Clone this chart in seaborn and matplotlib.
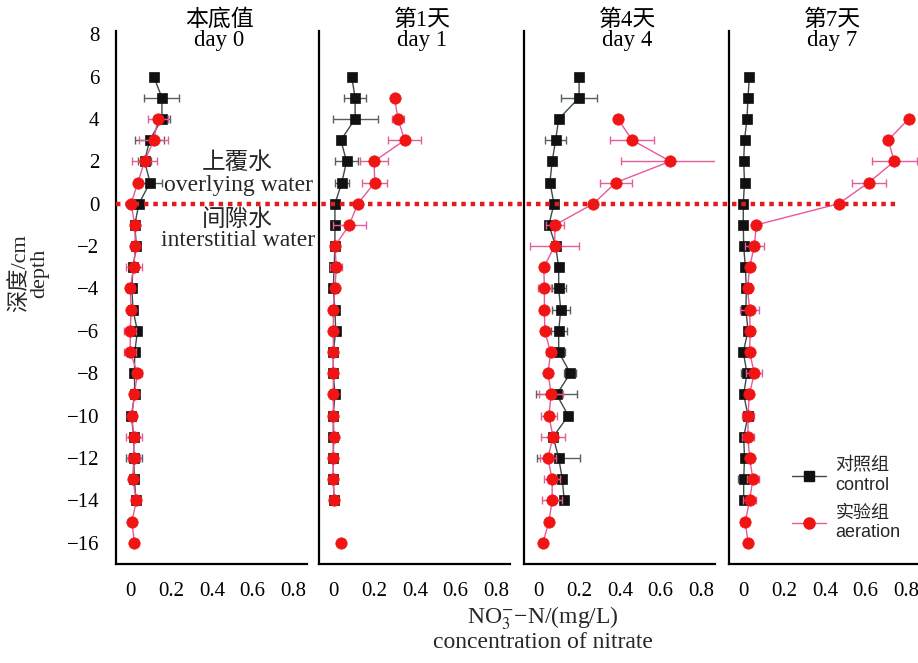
import numpy as np
import pandas as pd
import matplotlib
matplotlib.use("Agg")
import matplotlib.pyplot as plt
import matplotlib.transforms as mtransforms
from matplotlib.lines import Line2D
import seaborn as sns

# ---------------- data ----------------
panel_titles = ["本底值\nday 0", "第1天\nday 1", "第4天\nday 4", "第7天\nday 7"]

ctrl_depth = [6, 5, 4, 3, 2, 1, 0, -1, -2, -3, -4, -5, -6, -7, -8, -9, -10, -11, -12, -13, -14]
aer_depth = [4, 3, 2, 1, 0, -1, -2, -3, -4, -5, -6, -7, -8, -9, -10, -11, -12, -13, -14, -15, -16]
aer_depth_day1 = [5, 4, 3, 2, 1, 0, -1, -2, -3, -4, -5, -6, -7, -8, -9, -10, -11, -12, -13, -14, -16]

# day 0
ctrl_d0 = [0.115, 0.155, 0.155, 0.095, 0.07, 0.097, 0.042, 0.022, 0.03, 0.013, 0.008, 0.013, 0.035, 0.022, 0.02, 0.022, 0.005, 0.017, 0.017, 0.02, 0.028]
ctrl_d0_err = [0.0, 0.086, 0.04, 0.07, 0.03, 0.06, 0.0, 0.0, 0.0, 0.0, 0.02, 0.0, 0.0, 0.0, 0.0, 0.0, 0.0, 0.0, 0.04, 0.0, 0.0]
aer_d0 = [0.135, 0.115, 0.07, 0.037, 0.004, 0.022, 0.025, 0.017, 0.0, 0.004, 0.0, 0.0, 0.035, 0.02, 0.008, 0.017, 0.017, 0.012, 0.03, 0.008, 0.02]
aer_d0_err = [0.05, 0.07, 0.06, 0.0, 0.0, 0.015, 0.02, 0.04, 0.02, 0.0, 0.03, 0.03, 0.02, 0.0, 0.0, 0.04, 0.03, 0.02, 0.02, 0.0, 0.0]

# day 1
ctrl_d1 = [0.09, 0.107, 0.107, 0.037, 0.065, 0.042, 0.008, 0.008, 0.008, 0.004, 0.0, 0.008, 0.012, 0.0, 0.0, 0.008, 0.0, 0.0, 0.0, 0.0, 0.004]
ctrl_d1_err = [0.0, 0.055, 0.11, 0.0, 0.055, 0.035, 0.0, 0.0, 0.0, 0.0, 0.0, 0.0, 0.0, 0.0, 0.0, 0.0, 0.0, 0.0, 0.0, 0.0, 0.0]
aer_d1 = [0.30, 0.317, 0.35, 0.20, 0.203, 0.12, 0.078, 0.008, 0.015, 0.008, 0.0, 0.0, 0.0, 0.0, 0.0, 0.0, 0.004, 0.0, 0.0, 0.004, 0.037]
aer_d1_err = [0.0, 0.03, 0.08, 0.07, 0.06, 0.0, 0.08, 0.0, 0.03, 0.015, 0.0, 0.0, 0.0, 0.0, 0.0, 0.0, 0.0, 0.0, 0.0, 0.0, 0.0]

# day 4
ctrl_d4 = [0.20, 0.20, 0.10, 0.085, 0.068, 0.057, 0.077, 0.052, 0.085, 0.10, 0.10, 0.11, 0.10, 0.10, 0.157, 0.09, 0.147, 0.073, 0.10, 0.118, 0.127]
ctrl_d4_err = [0.0, 0.087, 0.0, 0.05, 0.0, 0.0, 0.0, 0.0, 0.0, 0.0, 0.035, 0.045, 0.04, 0.03, 0.03, 0.10, 0.0, 0.0, 0.105, 0.0, 0.0]
aer_d4 = [0.39, 0.46, 0.647, 0.38, 0.27, 0.082, 0.08, 0.027, 0.03, 0.03, 0.032, 0.06, 0.048, 0.063, 0.052, 0.072, 0.047, 0.068, 0.068, 0.052, 0.023]
aer_d4_err = [0.0, 0.108, 0.24, 0.077, 0.0, 0.045, 0.12, 0.0, 0.03, 0.0, 0.0, 0.02, 0.0, 0.06, 0.04, 0.06, 0.04, 0.04, 0.05, 0.0, 0.0]

# day 7
ctrl_d7 = [0.03, 0.023, 0.018, 0.006, 0.002, 0.006, 0.0, 0.0, 0.002, 0.01, 0.015, 0.013, 0.023, 0.0, 0.018, 0.002, 0.023, 0.002, 0.006, 0.002, 0.002]
ctrl_d7_err = [0.0, 0.0, 0.0, 0.0, 0.0, 0.0, 0.0, 0.0, 0.0, 0.0, 0.0, 0.0, 0.0, 0.0, 0.03, 0.0, 0.0, 0.0, 0.0, 0.03, 0.0]
aer_d7 = [0.81, 0.71, 0.74, 0.615, 0.467, 0.064, 0.054, 0.031, 0.021, 0.031, 0.034, 0.031, 0.054, 0.03, 0.023, 0.023, 0.031, 0.047, 0.031, 0.01, 0.023]
aer_d7_err = [0.0, 0.0, 0.11, 0.083, 0.0, 0.0, 0.047, 0.0, 0.0, 0.045, 0.0, 0.0, 0.04, 0.0, 0.03, 0.03, 0.0, 0.03, 0.03, 0.02, 0.0]

x_ticks = [0, 0.2, 0.4, 0.6, 0.8]
x_ticklabels = ["0", "0.2", "0.4", "0.6", "0.8"]
y_ticks = [8, 6, 4, 2, 0, -2, -4, -6, -8, -10, -12, -14, -16]

panels = [
    (ctrl_depth, ctrl_d0, ctrl_d0_err, aer_depth, aer_d0, aer_d0_err),
    (ctrl_depth, ctrl_d1, ctrl_d1_err, aer_depth_day1, aer_d1, aer_d1_err),
    (ctrl_depth, ctrl_d4, ctrl_d4_err, aer_depth, aer_d4, aer_d4_err),
    (ctrl_depth, ctrl_d7, ctrl_d7_err, aer_depth, aer_d7, aer_d7_err),
]

# ---------------- style ----------------
sns.set_theme(style="white")
plt.rcParams["font.family"] = ["Liberation Serif", "Noto Sans CJK SC"]
plt.rcParams["mathtext.fontset"] = "stix"
plt.rcParams["axes.unicode_minus"] = True

C_CTRL = "#111111"
C_CTRL_LINE = "#3b4a4a"
C_CTRL_ERR = "#55605f"
C_AER = "#f01414"
C_AER_LINE = "#e8589a"
C_AER_ERR = "#e0609a"

W, H = 918, 663
fig = plt.figure(figsize=(W / 100, H / 100), dpi=100)

lefts = [116, 319, 524, 729]
pw = 191
top_px, bot_px = 31, 564
axes = []
for i, lp in enumerate(lefts):
    ax = fig.add_axes([lp / W, 1 - bot_px / H, pw / W, (bot_px - top_px) / H])
    axes.append(ax)

for i, ax in enumerate(axes):
    cd, cv, ce, ad, av, ae = panels[i]
    dfc = pd.DataFrame({"depth": cd, "conc": cv, "err": ce})
    dfa = pd.DataFrame({"depth": ad, "conc": av, "err": ae})
    # segments: break the line where a depth step is missing
    dd = dfa["depth"].diff().fillna(-1)
    dfa["seg"] = (dd != -1).cumsum()
    dfc["seg"] = 0

    # control
    ax.errorbar(dfc["conc"], dfc["depth"], xerr=dfc["err"], fmt="none",
                ecolor=C_CTRL_ERR, elinewidth=1.0, capsize=2.8, capthick=1.0, zorder=2)
    sns.lineplot(data=dfc, x="conc", y="depth", units="seg", estimator=None,
                 orient="y", sort=True, ax=ax, color=C_CTRL_LINE, linewidth=1.0,
                 marker="s", markersize=6.5, markerfacecolor=C_CTRL,
                 markeredgecolor=C_CTRL, markeredgewidth=0.5, zorder=3, legend=False)
    # aeration
    ax.errorbar(dfa["conc"], dfa["depth"], xerr=dfa["err"], fmt="none",
                ecolor=C_AER_ERR, elinewidth=1.0, capsize=2.8, capthick=1.0, zorder=4)
    sns.lineplot(data=dfa, x="conc", y="depth", units="seg", estimator=None,
                 orient="y", sort=True, ax=ax, color=C_AER_LINE, linewidth=1.0,
                 marker="o", markersize=8.2, markerfacecolor=C_AER,
                 markeredgecolor=C_AER, markeredgewidth=0.5, zorder=5, legend=False)

    ax.set_xlim(-0.07, 0.866)
    ax.set_ylim(-17.0, 8.15)
    ax.set_xticks(x_ticks)
    ax.set_xticklabels(x_ticklabels)
    ax.set_yticks(y_ticks)
    ax.set_xlabel("")
    ax.set_ylabel("")
    for s in ["top", "right"]:
        ax.spines[s].set_visible(False)
    for s in ["left", "bottom"]:
        ax.spines[s].set_color("black")
        ax.spines[s].set_linewidth(1.6)
    ax.tick_params(axis="x", length=0, pad=13, labelsize=15, colors="black")
    ax.tick_params(axis="y", length=0, pad=12, labelsize=15, colors="black")
    if i > 0:
        ax.tick_params(axis="y", labelleft=False)
    ax.patch.set_alpha(0)

    # panel titles
    cx = (lefts[i] + pw / 2 + 8) / W
    fig.text(cx, 1 - 30 / H, panel_titles[i], ha="center", va="center",
             fontsize=16.5, linespacing=0.95, color="black")

# dashed separation line (water / sediment interface)
trans = mtransforms.blended_transform_factory(fig.transFigure, axes[0].transData)
fig.add_artist(Line2D([116 / W, 897 / W], [0, 0], transform=trans, color="#e41a1c",
                      linewidth=3.2, linestyle=(0, (1, 1.1)), zorder=10))

# annotations
fig.text(237 / W, 1 - 163 / H, "上覆水", ha="center", va="center", fontsize=17)
fig.text(238 / W, 1 - 185 / H, "overlying water", ha="center", va="center", fontsize=17)
fig.text(237 / W, 1 - 220 / H, "间隙水", ha="center", va="center", fontsize=17)
fig.text(238 / W, 1 - 240 / H, "interstitial water", ha="center", va="center", fontsize=17)

# axis labels
fig.text(29 / W, 1 - 273 / H, "深度/cm\ndepth", rotation=90, ha="center", va="center",
         fontsize=16, linespacing=1.0, multialignment="center")
fig.text(543 / W, 1 - 618 / H, r"NO$_{3}^{-}$−N/(mg/L)", ha="center", va="center", fontsize=17)
fig.text(543 / W, 1 - 642 / H, "concentration of nitrate", ha="center", va="center", fontsize=17)

# legend
handles = [
    Line2D([], [], color=C_CTRL_LINE, linewidth=1.0, marker="s", markersize=6.5,
           markerfacecolor=C_CTRL, markeredgecolor=C_CTRL),
    Line2D([], [], color=C_AER_LINE, linewidth=1.0, marker="o", markersize=8,
           markerfacecolor=C_AER, markeredgecolor=C_AER),
]
leg = axes[3].legend(handles, ["对照组\ncontrol", "实验组\naeration"], frameon=False,
                     loc="upper left", bbox_to_anchor=(783 / W, 1 - 448 / H),
                     bbox_transform=fig.transFigure, handlelength=1.9, handletextpad=0.5,
                     labelspacing=0.6, borderpad=0,
                     prop={"family": ["Liberation Sans", "Noto Sans CJK SC"], "size": 13})

fig.savefig("out.png", dpi=100)
